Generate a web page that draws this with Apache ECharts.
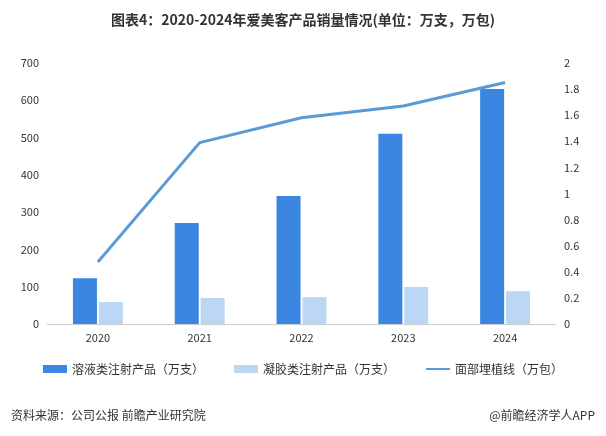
<!DOCTYPE html>
<html><head><meta charset="utf-8">
<script src="https://cdn.jsdelivr.net/npm/echarts@6/dist/echarts.min.js"></script>
<style>body{margin:0}#c{width:606px;height:436px}</style></head>
<body><div id="c"></div>
<script>
const categories=['2020','2021','2022','2023','2024'];
const solution=[123,271,343,510,630];
const gel=[59,70,72,99,88];
const face=[0.475,1.39,1.58,1.67,1.85];
const chart=echarts.init(document.getElementById('c'));
const font='"Noto Sans CJK SC", sans-serif';
chart.setOption({
  textStyle:{fontFamily:font},
  title:[{text:'图表4：2020-2024年爱美客产品销量情况(单位：万支，万包)',left:'center',top:8,textStyle:{fontSize:14,fontWeight:'bold',color:'#333',fontFamily:font}},
    {text:'资料来源：公司公报 前瞻产业研究院',left:6,top:404,textStyle:{fontSize:12,fontWeight:'normal',color:'#333',fontFamily:font}},
    {text:'@前瞻经济学人APP',right:6,top:404,textStyle:{fontSize:12,fontWeight:'normal',color:'#333',fontFamily:font}}],
  legend:{bottom:56,itemGap:30,textStyle:{fontSize:12,color:'#333'},
    data:[{name:'溶液类注射产品（万支）',icon:'rect'},{name:'凝胶类注射产品（万支）',icon:'rect'},{name:'面部埋植线（万包）',itemStyle:{opacity:0}}],
    itemWidth:24,itemHeight:8},
  grid:{left:47,right:50,top:63,bottom:112},
  xAxis:{type:'category',data:categories,axisTick:{show:false},axisLine:{lineStyle:{color:'#ccc'}},axisLabel:{color:'#333',fontSize:11}},
  yAxis:[{type:'value',min:0,max:700,interval:100,splitLine:{show:false},axisLabel:{color:'#333',fontSize:11}},
    {type:'value',min:0,max:2,interval:0.2,splitLine:{show:false},axisLabel:{color:'#333',fontSize:11}}],
  series:[
    {name:'溶液类注射产品（万支）',type:'bar',data:solution,barWidth:24,barGap:'8%',itemStyle:{color:'#3a86e0'}},
    {name:'凝胶类注射产品（万支）',type:'bar',data:gel,barWidth:24,itemStyle:{color:'#bcd7f5'}},
    {name:'面部埋植线（万包）',type:'line',yAxisIndex:1,data:face,symbol:'none',lineStyle:{color:'#5b9bd5',width:3},itemStyle:{color:'#5b9bd5'}}
  ]
});
</script></body></html>
